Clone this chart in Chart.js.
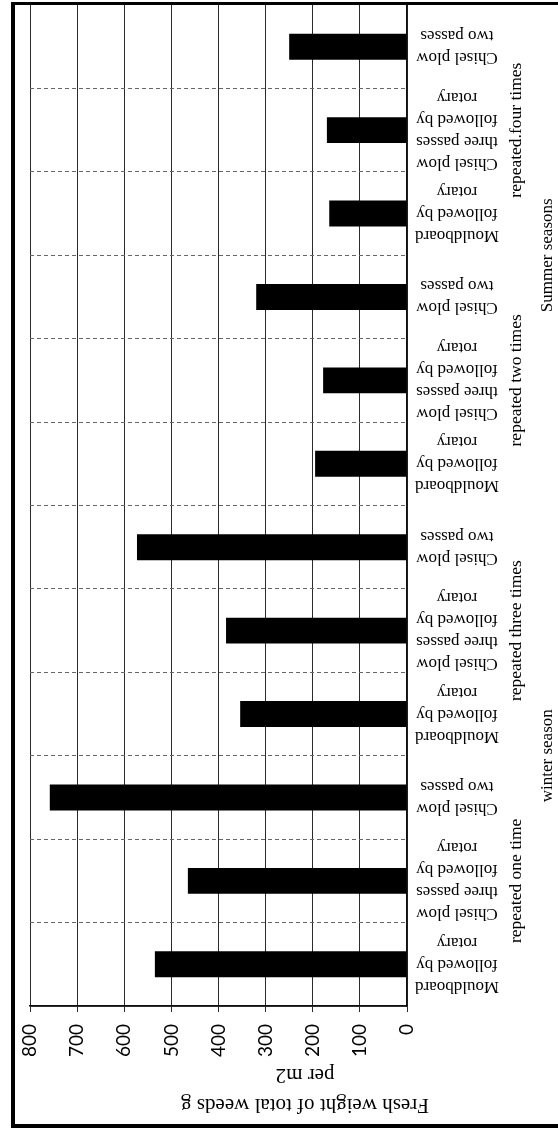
<!DOCTYPE html>
<html><head><meta charset="utf-8">
<script src="https://cdn.jsdelivr.net/npm/chart.js@4.4.1/dist/chart.umd.min.js"></script>
<style>html,body{margin:0;padding:0;background:#fff;} canvas{display:block;}</style>
</head><body>
<canvas id="c" width="558" height="1128" style="width:558px;height:1128px"></canvas>
<script>
// ---- data (listed from the bottom of the picture upward) ----
const treatments = [
  ["Mouldboard", "followed by", "rotary"],
  ["Chisel plow", "three passes", "followed by", "rotary"],
  ["Chisel plow", "two passes"]
];
const repetitions = ["repeated one time", "repeated three times", "repeated two times", "repeated.four times"];
const seasons = ["winter season", "Summer seasons"];
const seasonRepetitions = [[0, 1], [2, 3]];
const weedWeight = [535, 465, 758, 354, 384, 573, 195, 178, 320, 165, 170, 250];
const axisTitle = ["Fresh weight of total weeds g", "per m2"];
const valueMin = 0, valueMax = 800, valueStep = 100;

const labels = [];
repetitions.forEach(r => treatments.forEach(t => labels.push(t.join(" ") + " (" + r + ")")));

const serif = '"Liberation Serif","Times New Roman",serif';

function drawRot(ctx, lines, x, y, ang, lh) {
  ctx.save();
  ctx.translate(x, y);
  ctx.rotate(ang);
  ctx.textAlign = "center";
  ctx.textBaseline = "middle";
  lines.forEach((s, i) => ctx.fillText(s, 0, (i - (lines.length - 1) / 2) * lh));
  ctx.restore();
}

const textPlugin = {
  id: "texts",
  afterDraw(chart) {
    const ctx = chart.ctx, ys = chart.scales.y, area = chart.chartArea;
    ctx.save();
    // solid value-axis line
    ctx.strokeStyle = "#111";
    ctx.lineWidth = 1.5;
    ctx.beginPath();
    ctx.moveTo(area.left, area.bottom);
    ctx.lineTo(area.right, area.bottom);
    ctx.stroke();
    ctx.fillStyle = "#000";
    // category labels (upside down)
    ctx.font = "17px " + serif;
    labels.forEach((l, i) => {
      const lines = treatments[i % treatments.length];
      drawRot(ctx, lines, area.right + 50, ys.getPixelForValue(i), Math.PI, 22);
    });
    // repetition group labels
    ctx.font = "17.5px " + serif;
    const n = treatments.length;
    const groupCenter = g => (ys.getPixelForValue(g * n) + ys.getPixelForValue(g * n + n - 1)) / 2;
    repetitions.forEach((r, g) => {
      drawRot(ctx, [r], area.right + 109, groupCenter(g), -Math.PI / 2, 0);
    });
    // season labels
    ctx.font = "17px " + serif;
    seasons.forEach((s, k) => {
      const gs = seasonRepetitions[k];
      const c = (groupCenter(gs[0]) + groupCenter(gs[gs.length - 1])) / 2;
      drawRot(ctx, [s], area.right + 141, c, -Math.PI / 2, 0);
    });
    // value axis title (upside down)
    ctx.font = "21px " + serif;
    drawRot(ctx, axisTitle, 305, area.bottom + 84, Math.PI, 30);
    // outer frame
    ctx.fillRect(11, 2, 4, 1126);
    ctx.fillRect(11, 2, 547, 3);
    ctx.fillRect(11, 1124, 547, 4);
    ctx.restore();
  }
};

new Chart(document.getElementById("c"), {
  type: "bar",
  data: {
    labels: labels,
    datasets: [{
      data: weedWeight,
      backgroundColor: "#000",
      borderWidth: 0,
      barPercentage: 0.31,
      categoryPercentage: 1
    }]
  },
  options: {
    indexAxis: "y",
    responsive: false,
    animation: false,
    devicePixelRatio: 1,
    layout: { padding: { left: 30, top: 5, right: 0, bottom: 0 } },
    plugins: { legend: { display: false }, tooltip: { enabled: false } },
    scales: {
      x: {
        type: "linear",
        position: "bottom",
        reverse: true,
        min: valueMin,
        max: valueMax,
        ticks: {
          stepSize: valueStep,
          minRotation: 90,
          maxRotation: 90,
          padding: 12,
          color: "#000",
          font: { family: "Lato", size: 19 }
        },
        grid: { color: "#2a2a2a", lineWidth: 1, tickLength: 6 },
        border: { color: "#111", width: 1.5 },
        afterFit(scale) { scale.height = 122; }
      },
      y: {
        type: "category",
        position: "right",
        reverse: true,
        ticks: { display: false },
        grid: {
          offset: true,
          color: (c) => (c.index === 0 || c.index >= labels.length) ? "rgba(0,0,0,0)" : "#666",
          lineWidth: 1, drawTicks: false, tickLength: 0
        },
        border: { color: "#111", width: 1.5, dash: [4, 3] },
        afterFit(scale) { scale.width = 151; }
      }
    }
  },
  plugins: [textPlugin]
});
</script>
</body></html>
